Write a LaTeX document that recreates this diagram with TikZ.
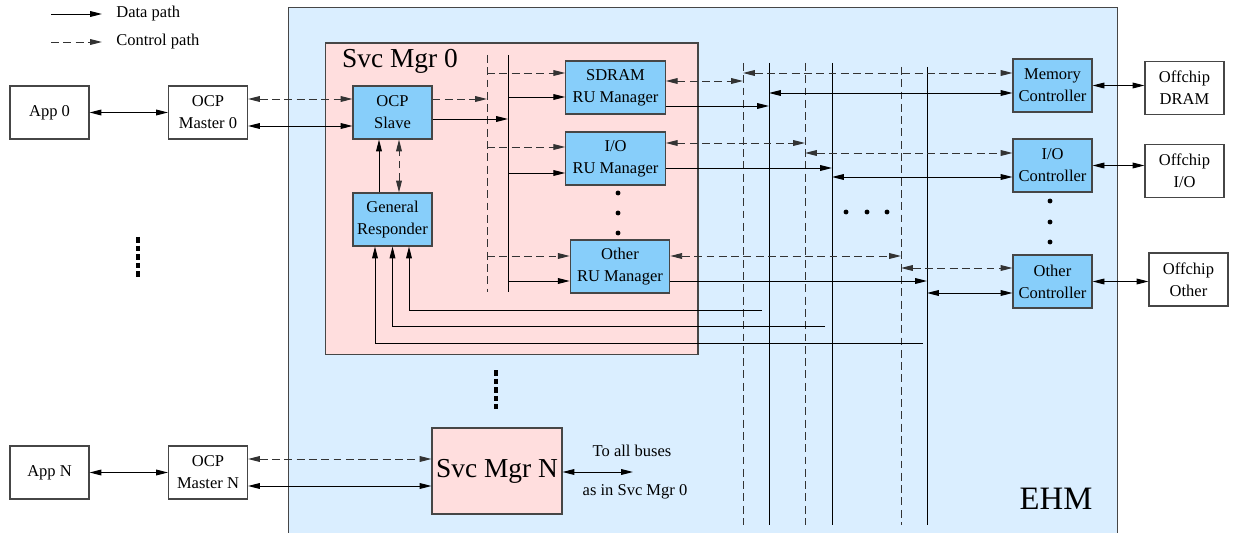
\documentclass[tikz,border=0pt]{standalone}
\usepackage{fontspec}
\setmainfont{Liberation Serif}
\usetikzlibrary{arrows.meta, positioning}

\definecolor{ehmblue}{RGB}{218,238,255}
\definecolor{mgrpink}{RGB}{255,222,222}
\definecolor{blockblue}{RGB}{135,206,250}
\definecolor{edgegray}{RGB}{70,70,70}

\begin{document}
\begin{tikzpicture}[x=0.02cm, y=-0.02cm,
    >={Triangle[length=6.8pt,width=3.3pt]},
    lbl/.style={inner sep=0pt, font=\fontsize{9.4}{12.5}\selectfont},
    big/.style={inner sep=0pt, font=\fontsize{15.6}{18}\selectfont},
    box/.style={draw=edgegray, line width=0.6pt, fill=white, align=center, inner sep=0pt,
        minimum width=1.58cm, minimum height=1.06cm, font=\fontsize{9.4}{12.5}\selectfont},
    block/.style={box, fill=blockblue},
    wideblock/.style={block, minimum width=1.99cm},
    mgr/.style={draw=edgegray, line width=0.6pt, fill=mgrpink, inner sep=0pt},
    flow/.style={->, line width=0.55pt},
    both/.style={<->, line width=0.55pt},
    ctrlflow/.style={flow, black!80, dash pattern=on 4.5pt off 2.5pt},
    cboth/.style={both, black!80, dash pattern=on 4.5pt off 2.5pt},
    bus/.style={line width=0.55pt},
    cbus/.style={bus, black!80, dash pattern=on 4.5pt off 2.5pt},
    vdots/.style={line width=1.8pt, dash pattern=on 3.2pt off 1.7pt}
]
\useasboundingbox (0,0) rectangle (1233,533);

% legend
\coordinate (lgd1) at (51,14);
\coordinate (lgd2) at (102,14);
\coordinate (lgc1) at (51,42);
\coordinate (lgc2) at (102,42);
\draw[flow] (lgd1) -- (lgd2);
\draw[ctrlflow] (lgc1) -- (lgc2);
\node[lbl, anchor=west] (lgdtxt) at (116,14) {Data path};
\node[lbl, anchor=west] (lgctxt) at (116,42) {Control path};

% EHM and service managers
\node[draw=edgegray, line width=0.6pt, fill=ehmblue, minimum width=16.6cm, minimum height=10.6cm] (ehm) at (703,272) {};
\node[font=\fontsize{18.6}{20}\selectfont, inner sep=0pt] (ehmlbl) at (1056,499) {EHM};
\node[mgr, minimum width=7.46cm, minimum height=6.24cm] (svc0) at (511.5,199) {};
\node[big] (svc0lbl) at (400,61) {Svc Mgr 0};
\node[mgr, minimum width=2.6cm, minimum height=1.72cm, font=\fontsize{15.6}{18}\selectfont] (svcN) at (497,471) {Svc Mgr N};

% apps and masters
\node[box] (app0) at (49.5,112.5) {App 0};
\node[box] (mst0) at (208,112.5) {OCP\\Master 0};
\node[box] (appN) at (49.5,472.5) {App N};
\node[box] (mstN) at (208,472.5) {OCP\\Master N};

% inside Svc Mgr 0
\node[block] (slave) at (392.5,112.5) {OCP\\Slave};
\node[block] (resp) at (392.5,219.5) {General\\Responder};
\node[wideblock] (sdram) at (615.5,87.5) {SDRAM\\RU Manager};
\node[wideblock] (iorm) at (615.5,158.5) {I/O\\RU Manager};
\node[wideblock] (othrm) at (620,266.5) {Other\\RU Manager};

% controllers and offchip
\node[block] (memc) at (1052.5,85.5) {Memory\\Controller};
\node[block] (ioc) at (1052.5,165.5) {I/O\\Controller};
\node[block] (othc) at (1052.5,281.5) {Other\\Controller};
\node[box] (offd) at (1184.5,88) {Offchip\\DRAM};
\node[box] (offi) at (1184.5,171) {Offchip\\I/O};
\node[box] (offo) at (1188.5,279.5) {Offchip\\Other};

% bus ends
\coordinate (cbi) at (487,55);  \coordinate (cbie) at (487,292);
\coordinate (sbi) at (508,55);  \coordinate (sbie) at (508,292);
\coordinate (cb1) at (743,63);  \coordinate (cb1e) at (743,525);
\coordinate (sb1) at (769,63);  \coordinate (sb1e) at (769,525);
\coordinate (cb2) at (805,63);  \coordinate (cb2e) at (805,525);
\coordinate (sb2) at (832,63);  \coordinate (sb2e) at (832,525);
\coordinate (cb3) at (901,67);  \coordinate (cb3e) at (901,525);
\coordinate (sb3) at (927,67);  \coordinate (sb3e) at (927,525);
\draw[cbus] (cbi) -- (cbie);
\draw[bus] (sbi) -- (sbie);
\draw[cbus] (cb1) -- (cb1e);
\draw[bus] (sb1) -- (sb1e);
\draw[cbus] (cb2) -- (cb2e);
\draw[bus] (sb2) -- (sb2e);
\draw[cbus] (cb3) -- (cb3e);
\draw[bus] (sb3) -- (sb3e);

% masters to slave / Svc Mgr N
\draw[both] (app0) -- (mst0);
\draw[cboth] (mst0.east |- 0,99) -- (slave.west |- 0,99);
\draw[both] (mst0.east |- 0,126) -- (slave.west |- 0,126);
\draw[both] (appN) -- (mstN);
\draw[cboth] (mstN.east |- 0,459) -- (svcN.west |- 0,459);
\draw[both] (mstN.east |- 0,486) -- (svcN.west |- 0,486);

% slave, responder and internal buses
\draw[ctrlflow] (slave.east |- 0,99) -- (cbi |- 0,99);
\draw[flow] (slave.east |- 0,119) -- (sbi |- 0,119);
\draw[flow] (resp.north -| 379,0) -- (slave.south -| 379,0);
\draw[cboth] (resp.north -| 399,0) -- (slave.south -| 399,0);
\draw[ctrlflow] (cbi |- 0,73) -- (sdram.west |- 0,73);
\draw[flow] (sbi |- 0,97) -- (sdram.west |- 0,97);
\draw[ctrlflow] (cbi |- 0,147) -- (iorm.west |- 0,147);
\draw[flow] (sbi |- 0,173) -- (iorm.west |- 0,173);
\draw[ctrlflow] (cbi |- 0,256) -- (othrm.west |- 0,256);
\draw[flow] (sbi |- 0,281) -- (othrm.west |- 0,281);

% RU managers to buses
\draw[cboth] (sdram.east |- 0,81) -- (cb1 |- 0,81);
\draw[flow] (sdram.east |- 0,106) -- (sb1 |- 0,106);
\draw[cboth] (iorm.east |- 0,143) -- (cb2 |- 0,143);
\draw[flow] (iorm.east |- 0,168) -- (sb2 |- 0,168);
\draw[cboth] (othrm.east |- 0,256) -- (cb3 |- 0,256);
\draw[flow] (othrm.east |- 0,281) -- (sb3 |- 0,281);

% buses to controllers
\draw[cboth] (cb1 |- 0,73) -- (memc.west |- 0,73);
\draw[both] (sb1 |- 0,93) -- (memc.west |- 0,93);
\draw[cboth] (cb2 |- 0,153) -- (ioc.west |- 0,153);
\draw[both] (sb2 |- 0,177) -- (ioc.west |- 0,177);
\draw[cboth] (cb3 |- 0,268) -- (othc.west |- 0,268);
\draw[both] (sb3 |- 0,293) -- (othc.west |- 0,293);

% controllers to offchip
\draw[both] (memc.east) -- (memc.east -| offd.west);
\draw[both] (ioc.east) -- (ioc.east -| offi.west);
\draw[both] (othc.east) -- (othc.east -| offo.west);

% responses back to the general responder
\coordinate (fb1) at (762,310);
\coordinate (fb2) at (825,326);
\coordinate (fb3) at (923,343);
\draw[flow] (fb1) -| (resp.south -| 409,0);
\draw[flow] (fb2) -| (resp.south);
\draw[flow] (fb3) -| (resp.south -| 375,0);

% Svc Mgr N to all buses
\coordinate (alln) at (633,472);
\draw[both] (svcN.east |- alln) -- (alln);
\node[lbl] (alltxt) at (632,451) {To all buses};
\node[lbl] (asin) at (635,492) {as in Svc Mgr 0};

% dots
\coordinate (vd1a) at (138,237);
\coordinate (vd1b) at (138,277);
\coordinate (vd2a) at (496,370);
\coordinate (vd2b) at (496,409);
\draw[vdots] (vd1a) -- (vd1b);
\draw[vdots] (vd2a) -- (vd2b);
\foreach \y in {193,213,233} \fill (618,\y) circle (1.4pt);
\foreach \x in {846,867,887} \fill (\x,212) circle (1.4pt);
\foreach \y in {201,222,242} \fill (1050,\y) circle (1.4pt);
\end{tikzpicture}
\end{document}
